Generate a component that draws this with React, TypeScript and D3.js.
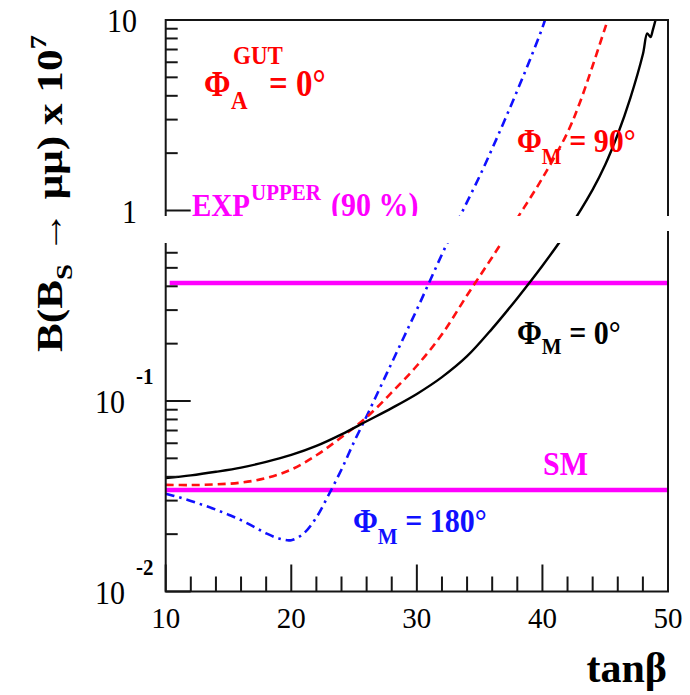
import React from "react";
import * as d3 from "d3";

// ---------- data ----------
// Φ_M = 0° (black, solid)
const phi0X = [10, 12, 14, 16, 18, 20, 22, 24, 26, 28, 30, 32, 34, 36, 38, 40, 42, 44, 45, 46, 47, 48, 48.35, 48.6, 48.8, 49.2];
const phi0Y = [0.0394, 0.0407, 0.0425, 0.0447, 0.0479, 0.0521, 0.0581, 0.0668, 0.0783, 0.0918, 0.1089, 0.1334, 0.1718, 0.2399, 0.3467, 0.5129, 0.7852, 1.288, 1.738, 2.512, 3.89, 6.607, 8.51, 8.13, 8.91, 11.2];

// Φ_M = 90° (red, dashed)
const phi90X = [10, 12, 14, 16, 18, 20, 22, 24, 26, 28, 30, 32, 34, 36, 38, 40, 42, 43, 44, 45, 45.5];
const phi90Y = [0.0363, 0.0362, 0.0365, 0.0373, 0.0394, 0.0437, 0.0519, 0.0646, 0.0822, 0.1109, 0.1531, 0.2239, 0.3589, 0.5689, 0.912, 1.479, 2.57, 3.715, 5.754, 9.12, 11.48];

// Φ_M = 180° (blue, dash-dot)
const phi180X = [10, 11, 12, 13, 14, 15, 16, 17, 18, 19, 20, 21, 22, 23, 24, 25, 26, 27, 28, 29, 30, 31, 32, 33, 34, 35, 36, 37, 38, 39, 40, 40.4];
const phi180Y = [0.0326, 0.0313, 0.0299, 0.0284, 0.0269, 0.0253, 0.0237, 0.0219, 0.0202, 0.019, 0.0186, 0.0202, 0.0245, 0.0324, 0.0437, 0.061, 0.0832, 0.1148, 0.1585, 0.2188, 0.302, 0.4217, 0.5888, 0.8128, 1.109, 1.514, 2.113, 2.985, 4.266, 6.166, 9.12, 10.96];

// horizontal reference lines
const expUpper = 0.416;
const smValue = 0.0341;

// axes
const xDomain = [10, 50];
const yDomain = [0.01, 10];
const xMajorTicks = [10, 20, 30, 40, 50];
const xMinorStep = 2;
const yMajorTicks = [0.01, 0.1, 1, 10];
const yTickBase = ["10", "10", "1", "10"];
const yTickExp = ["-2", "-1", "", ""];

const FONT_STYLE = { fontFamily: '"Liberation Serif", serif' };

function T({ x, y, sy = 1.12, children, ...rest }: any) {
  return (
    <g transform={`translate(${x},${y}) scale(1,${sy})`}>
      <text x={0} y={0} style={FONT_STYLE} {...rest}>
        {children}
      </text>
    </g>
  );
}

export default function App() {
  const left = 165.7, right = 668, top = 20, bottom = 591.5;
  const x = d3.scaleLinear().domain(xDomain).range([left, right]);
  const y = d3.scaleLog().domain(yDomain).range([bottom, top]);

  const line = d3
    .line<[number, number]>()
    .x((d) => x(d[0]))
    .y((d) => y(d[1]))
    .curve(d3.curveCatmullRom.alpha(0.5));

  const zip = (xs: number[], ys: number[]) => xs.map((v, i) => [v, ys[i]] as [number, number]);

  const xMinor: number[] = [];
  for (let v = xDomain[0]; v <= xDomain[1]; v += xMinorStep) if (!xMajorTicks.includes(v)) xMinor.push(v);
  const yMinor: number[] = [];
  for (let i = 0; i < yMajorTicks.length - 1; i++) for (let k = 2; k <= 9; k++) yMinor.push(yMajorTicks[i] * k);

  const axisColor = "#151515";

  return (
    <svg width={690} height={695} style={{ position: "absolute", left: 0, top: 0, background: "#fff" }}>
      <defs>
        <clipPath id="plot">
          <rect x={left} y={top} width={right - left} height={bottom - top} />
        </clipPath>
      </defs>
      <rect width={690} height={695} fill="#fff" />

      {/* reference lines */}
      <line x1={x(10) + 4} x2={right} y1={y(expUpper)} y2={y(expUpper)} stroke="#ff00ff" strokeWidth={4.5} />
      <line x1={left} x2={right} y1={y(smValue)} y2={y(smValue)} stroke="#ff00ff" strokeWidth={4.5} />

      {/* curves */}
      <g clipPath="url(#plot)" fill="none">
        <path d={line(zip(phi180X, phi180Y)) || ""} stroke="#1010ff" strokeWidth={2.6} strokeDasharray="9,5,2.5,5" />
        <path d={line(zip(phi90X, phi90Y)) || ""} stroke="#ff1010" strokeWidth={2.6} strokeDasharray="8,5" />
        <path d={line(zip(phi0X, phi0Y)) || ""} stroke="#000" strokeWidth={2.4} />
      </g>

      {/* frame */}
      <rect x={left} y={top} width={right - left} height={bottom - top} fill="none" stroke={axisColor} strokeWidth={2} />

      {/* x ticks */}
      {xMajorTicks.map((t) => (
        <line key={"xM" + t} x1={x(t)} x2={x(t)} y1={bottom} y2={bottom - 27} stroke={axisColor} strokeWidth={2} />
      ))}
      {xMinor.map((t) => (
        <line key={"xm" + t} x1={x(t)} x2={x(t)} y1={bottom} y2={bottom - 15} stroke={axisColor} strokeWidth={2} />
      ))}
      {xMajorTicks.map((t) => (
        <T key={"xl" + t} x={x(t)} y={628} sy={1.0} textAnchor="middle" fontSize={29}>
          {t}
        </T>
      ))}

      {/* y ticks */}
      {yMajorTicks.map((t) => (
        <line key={"yM" + t} x1={left} x2={left + 25} y1={y(t)} y2={y(t)} stroke={axisColor} strokeWidth={2} />
      ))}
      {yMinor.map((t) => (
        <line key={"ym" + t} x1={left} x2={left + 12} y1={y(t)} y2={y(t)} stroke={axisColor} strokeWidth={2} />
      ))}
      {yMajorTicks.map((t, i) =>
        yTickExp[i] ? (
          <g key={"yl" + t}>
            <T x={125} y={y(t) + 12} textAnchor="end" fontSize={30}>
              {yTickBase[i]}
            </T>
            <T x={136} y={y(t) - 17} fontSize={21} fontWeight="bold">
              {yTickExp[i]}
            </T>
          </g>
        ) : (
          <T key={"yl" + t} x={137} y={y(t) + 12} textAnchor="end" fontSize={30}>
            {yTickBase[i]}
          </T>
        )
      )}

      {/* in-plot labels */}
      <g fontWeight="bold">
        <T x={204} y={96} fill="#ff0000" fontSize={32}>Φ</T>
        <T x={233} y={64} fill="#ff0000" fontSize={23}>GUT</T>
        <T x={231} y={109} fill="#ff0000" fontSize={23}>A</T>
        <T x={269} y={96} fill="#ff0000" fontSize={33}>= 0°</T>

        <T x={192} y={216} fill="#ff00ff" fontSize={29}>EXP</T>
        <T x={251} y={200} fill="#ff00ff" fontSize={21}>UPPER</T>
        <T x={331} y={216} fill="#ff00ff" fontSize={30}>(90 %)</T>

        <T x={517} y={152} fill="#ff0000" fontSize={30}>
          Φ<tspan fontSize={21} dy={11}>M</tspan>
          <tspan dy={-11}> = 90°</tspan>
        </T>

        <T x={517} y={344} fill="#000" fontSize={30}>
          Φ<tspan fontSize={21} dy={9}>M</tspan>
          <tspan dy={-9}> = 0°</tspan>
        </T>

        <T x={543} y={475} fill="#ff00ff" fontSize={30}>SM</T>

        <T x={353} y={532} fill="#1010ff" fontSize={30}>
          Φ<tspan fontSize={21} dy={11}>M</tspan>
          <tspan dy={-11}> = 180°</tspan>
        </T>

        <T x={667} y={682} sy={1.0} textAnchor="end" fill="#000" fontSize={42}>tanβ</T>

        <g transform="translate(62,352) rotate(-90) scale(1.2,1)">
          <text x={0} y={0} fontSize={36} fill="#000" style={FONT_STYLE}>
            B(B<tspan fontSize={24} dy={10}>S</tspan>
            <tspan dy={-10}> → μμ) x 10</tspan>
            <tspan fontSize={24} dy={-16}>7</tspan>
          </text>
        </g>
      </g>

      {/* white scan gap across the plot */}
      <rect x={150} y={216} width={522} height={15} fill="#fff" />
      <rect x={150} y={230} width={516} height={13} fill="#fff" />
    </svg>
  );
}
